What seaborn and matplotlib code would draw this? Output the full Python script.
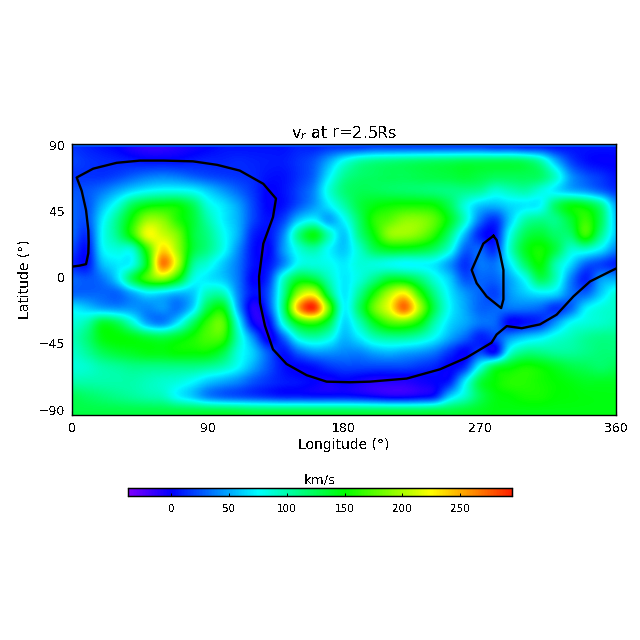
import numpy as np
import pandas as pd
import matplotlib
matplotlib.use("Agg")
import matplotlib.pyplot as plt
from matplotlib.colors import LinearSegmentedColormap
import seaborn as sns

lons = list(range(0, 361, 10))
lats = list(range(90, -91, -10))
v_p90 = [15,10,5,0,-10,-15,-15,-10,-5,0,5,5,5,5,5,10,10,15,15,15,20,20,20,20,20,20,20,20,15,15,10,10,5,5,5,5,5]
v_p80 = [20,15,12,10,8,5,5,5,8,10,10,12,10,8,8,15,25,50,80,100,108,112,115,118,120,122,125,125,125,125,120,100,55,20,5,0,0]
v_p70 = [15,15,15,20,28,35,38,35,28,22,18,15,12,5,5,15,30,70,105,118,122,125,125,128,130,132,135,130,125,125,125,120,90,45,25,15,5]
v_p60 = [25,25,35,50,65,75,80,80,75,60,45,30,15,0,5,20,40,85,115,125,125,122,120,118,115,112,110,105,88,95,100,85,70,55,45,30,15]
v_p50 = [30,25,55,85,125,145,150,148,125,85,68,48,20,0,5,25,45,70,100,130,145,152,155,155,150,125,85,60,55,65,70,75,120,145,140,110,50]
v_p40 = [30,25,70,110,155,195,190,160,135,100,72,52,20,5,20,60,75,50,75,120,160,175,190,190,175,140,90,35,15,60,100,110,110,135,165,125,60]
v_p30 = [30,15,75,110,160,220,210,185,135,110,80,52,10,5,40,110,145,95,60,110,150,190,195,185,160,115,55,10,5,80,125,135,120,120,165,110,60]
v_p20 = [20,5,70,85,90,165,235,195,135,110,80,42,5,0,45,85,100,75,60,90,125,140,140,135,120,85,30,30,15,90,140,155,130,90,90,70,40]
v_p10 = [10,5,55,70,80,150,265,205,110,85,60,35,5,5,40,80,85,80,70,85,85,80,75,75,70,45,15,35,35,70,120,150,100,65,30,20,10]
v_00 = [30,25,35,65,125,170,190,150,85,70,60,35,0,15,90,135,130,95,70,85,110,135,135,115,85,60,25,30,30,50,80,125,95,40,10,45,50]
v_m10 = [30,30,30,30,50,70,65,55,60,95,95,40,5,25,105,195,215,125,70,105,155,200,225,165,110,70,45,30,20,45,60,70,65,35,30,60,85]
v_m20 = [70,60,50,45,45,40,45,35,65,130,145,50,-10,20,115,250,290,180,75,120,180,220,270,200,125,75,50,30,30,35,35,30,15,30,70,85,90]
v_m30 = [85,100,135,125,90,50,40,70,120,165,175,80,0,0,85,150,165,130,65,95,140,170,175,150,100,65,50,35,30,0,5,15,45,75,85,90,95]
v_m40 = [95,115,145,150,145,135,130,140,155,170,165,95,40,-5,30,85,100,85,55,70,95,105,105,95,75,50,30,10,20,45,60,70,85,95,105,110,110]
v_m50 = [90,105,125,135,140,145,145,150,150,150,130,85,60,25,5,30,45,45,40,40,50,55,50,45,35,15,0,20,5,85,110,110,105,105,110,115,115]
v_m60 = [85,90,100,105,110,110,110,110,110,105,95,75,50,25,5,0,5,15,20,20,20,20,20,15,10,0,15,80,130,145,155,150,140,130,125,120,125]
v_m70 = [100,100,100,100,100,95,90,85,75,60,50,40,25,15,8,5,0,-5,0,-5,-10,-10,-10,-5,0,10,70,130,150,160,160,155,150,145,140,140,140]
v_m80 = [125,120,115,110,105,100,95,75,60,40,30,25,20,15,10,10,8,8,8,5,0,-5,-5,0,10,60,90,125,145,150,155,155,150,148,146,145,145]
v_m90 = [130,130,130,130,130,130,130,130,130,130,130,128,125,125,125,125,125,125,125,125,125,125,125,125,128,130,135,140,145,145,145,145,145,145,145,145,145]
rows = [v_p90,v_p80,v_p70,v_p60,v_p50,v_p40,v_p30,v_p20,v_p10,v_00,v_m10,v_m20,v_m30,v_m40,v_m50,v_m60,v_m70,v_m80,v_m90]
top_edge = [[70], [22]]

outer_lon = [0,5,9.3,10.8,11,10.8,9.3,6.4,3.1,14,29.6,45,60.4,80,96,111,126.6,135,133,126.6,123.8,123.8,124.4,127.7,133,142,155.3,168.5,184,197,221.5,243.5,261,277.6,281,287.7,297.6,309.7,320.7,331.8,342.8,356,360]
outer_lat = [8.3,9,10,17.4,25,33,46.7,60,69,75,79,80.5,80.5,80,77.6,73.7,64.7,54.6,42,24,1.6,-0.7,-16.4,-32,-48,-58,-65.6,-70,-70.4,-70,-67.9,-61.6,-53.7,-43.5,-37.9,-32.2,-33.6,-31,-24.4,-12,-1.8,5,7]
loop_lon = [278.9,272.2,264.5,267.8,274.4,284,285.5,285.5,283.2,281,278.9]
loop_lat = [29.3,24,6,-3,-12,-19.9,-14,6,17.4,26.4,29.3]
cbar_ticks = [0,50,100,150,200,250]
lon_ticks = [0,90,180,270,360]
lat_ticks = [-90,-45,0,45,90]

plt.rcParams['font.family'] = ['DejaVu Sans']
plt.rcParams['text.antialiased'] = False
VMIN, VMAX = -37.5, 295
cmap = LinearSegmentedColormap.from_list("idlrain", [
    (0.0, "#7f00ff"), (37.5/332.5, "#0000ff"), (112.5/332.5, "#00ffff"),
    (187.5/332.5, "#00ff00"), (262.5/332.5, "#ffff00"), (1.0, "#ff2000")], N=256)

df = pd.DataFrame(rows, index=lats, columns=lons)
fig = plt.figure(figsize=(6.4, 6.4), dpi=100)
W = H = 640.0
ax = fig.add_axes([72/W, 1-415/H, 544/W, 271/H])
cax = fig.add_axes([128/W, 1-496/H, 384/W, 8/H])
sns.heatmap(df, ax=ax, cmap=cmap, vmin=VMIN, vmax=VMAX, cbar=True, cbar_ax=cax,
            cbar_kws={"orientation": "horizontal", "ticks": cbar_ticks})
nx, ny = df.shape[1], df.shape[0]
ax.imshow(df.values, cmap=cmap, vmin=VMIN, vmax=VMAX, interpolation="catrom",
          aspect="auto", extent=(0, nx, ny, 0), zorder=2)

def xi(lon):
    return np.asarray(lon, float)/10 + 0.5
def yi(lat):
    return (90 - np.asarray(lat, float))/10 + 0.5

ax.imshow(top_edge, cmap=cmap, vmin=VMIN, vmax=VMAX, interpolation="bilinear", aspect="auto",
          extent=(0, nx, float(yi(89.5)), float(yi(92))), zorder=2.5)
for lo, la in ((outer_lon, outer_lat), (loop_lon, loop_lat)):
    sns.lineplot(x=xi(lo), y=yi(la), sort=False, estimator=None, color="black",
                 linewidth=1.7, ax=ax, zorder=3)
ax.set_xlim(xi(0), xi(360))
ax.set_ylim(yi(-92.7), yi(91.8))
ax.set_xticks(xi(lon_ticks))
ax.set_xticklabels([str(v) for v in lon_ticks], rotation=0)
ax.set_yticks(yi(lat_ticks))
ax.set_yticklabels([str(v).replace("-", "\u2212") for v in lat_ticks], rotation=0, va="center")
ax.tick_params(direction="in", length=3, width=0.8, top=True, right=True, labelsize=9, pad=5)
ax.set_xlabel("Longitude (°)", fontsize=10, labelpad=2)
ax.set_ylabel("Latitude (°)", fontsize=10, labelpad=5)
ax.set_title("v$_r$ at r=2.5Rs", fontsize=11.5, pad=4)
for s in ax.spines.values():
    s.set_visible(True)
    s.set_linewidth(1.0)
    s.set_color("black")
    s.set_zorder(5)
cax.tick_params(direction="in", length=2, width=0.7, labelsize=7.5, pad=6, bottom=True)
for s in cax.spines.values():
    s.set_visible(True)
    s.set_linewidth(0.9)
cax.set_title("km/s", fontsize=9.5, pad=3)
fig.savefig("out.png", dpi=100)
